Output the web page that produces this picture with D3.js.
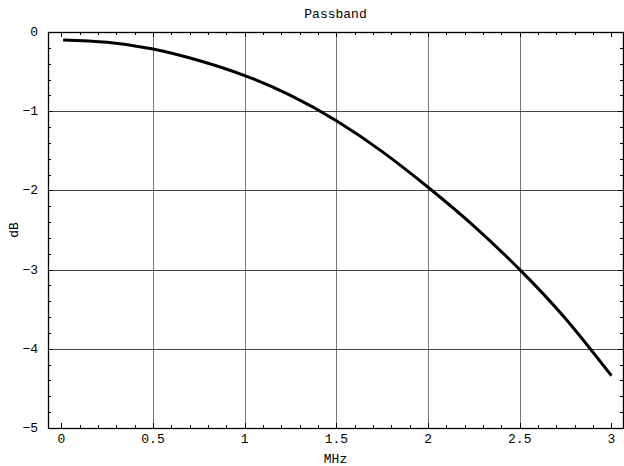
<!DOCTYPE html>
<html>
<head>
<meta charset="utf-8">
<script src="https://cdn.jsdelivr.net/npm/d3@7"></script>
<style>
  body { margin: 0; background: #fff; }
  text { font-family: "Liberation Mono", "DejaVu Sans Mono", monospace; fill: #000; }
</style>
</head>
<body>
<div id="chart"></div>
<script>
// values
var freqs = [0.01, 0.25, 0.5, 0.75, 1.0, 1.25, 1.5, 1.75, 2.0, 2.25, 2.5, 2.75, 3.0];
var gains = [-0.10, -0.13, -0.215, -0.36, -0.55, -0.80, -1.12, -1.51, -1.96, -2.45, -3.00, -3.62, -4.34];
var xTicks = [0, 0.5, 1, 1.5, 2, 2.5, 3];
var yTicks = [0, -1, -2, -3, -4, -5];
var xGrid = [0.5, 1, 1.5, 2, 2.5];
var yGrid = [-1, -2, -3, -4];

var svgWidth = 624;
var svgHeight = 466;
var margin = { top: 32, right: 1, bottom: 38, left: 48 };
var width = svgWidth - margin.left - margin.right;
var height = svgHeight - margin.top - margin.bottom;

var svg = d3.select("#chart")
  .append("svg")
  .attr("width", svgWidth)
  .attr("height", svgHeight);

var chartGroup = svg.append("g")
  .attr("transform", `translate(${margin.left}, ${margin.top})`);

var x = d3.scaleLinear().domain([-0.0725, 3.063]).range([0, width]);
var y = d3.scaleLinear().domain([-5, 0]).range([height, 0]);

// grid lines
chartGroup.selectAll(".vgrid").data(xGrid).enter()
  .append("line")
  .attr("x1", d => Math.round(x(d)) + 0.5)
  .attr("x2", d => Math.round(x(d)) + 0.5)
  .attr("y1", 0).attr("y2", height)
  .attr("stroke", "#777").attr("stroke-width", 1);

chartGroup.selectAll(".hgrid").data(yGrid).enter()
  .append("line")
  .attr("y1", d => Math.round(y(d)) + 0.5)
  .attr("y2", d => Math.round(y(d)) + 0.5)
  .attr("x1", 0).attr("x2", width)
  .attr("stroke", "#444").attr("stroke-width", 1);

// minor ticks
var xMinor = d3.range(0, 31).map(i => i / 10);
var yMinor = d3.range(0, 26).map(i => -i / 5);

function tickLen(v, majors) {
  return majors.some(m => Math.abs(m - v) < 1e-6) ? 5 : 3;
}

// bottom and top ticks
[height, 0].forEach(function(base) {
  var dir = base === 0 ? 1 : -1;
  chartGroup.selectAll(null).data(xMinor).enter()
    .append("line")
    .attr("x1", d => Math.round(x(d)) + 0.5)
    .attr("x2", d => Math.round(x(d)) + 0.5)
    .attr("y1", base)
    .attr("y2", d => base + dir * tickLen(d, xTicks))
    .attr("stroke", "#000");
});

// left and right ticks
[0, width].forEach(function(base) {
  var dir = base === 0 ? 1 : -1;
  chartGroup.selectAll(null).data(yMinor).enter()
    .append("line")
    .attr("y1", d => Math.round(y(d)) + 0.5)
    .attr("y2", d => Math.round(y(d)) + 0.5)
    .attr("x1", base)
    .attr("x2", d => base + dir * tickLen(d, yTicks))
    .attr("stroke", "#000");
});

// frame
chartGroup.append("rect")
  .attr("x", 0.5).attr("y", 0.5)
  .attr("width", width).attr("height", height)
  .attr("fill", "none").attr("stroke", "#000").attr("stroke-width", 1.3);

// tick labels
chartGroup.selectAll(".xlab").data(xTicks).enter()
  .append("text")
  .attr("x", d => x(d))
  .attr("y", height + 15)
  .attr("text-anchor", "middle")
  .attr("font-size", 13)
  .text(d => d3.format("")(d));

chartGroup.selectAll(".ylab").data(yTicks).enter()
  .append("text")
  .attr("x", -10)
  .attr("y", d => y(d) + 4)
  .attr("text-anchor", "end")
  .attr("font-size", 13)
  .text(d => d === 0 ? "0" : "\u2212" + Math.abs(d));

// curve
var line = d3.line()
  .x((d, i) => x(freqs[i]))
  .y(d => y(d))
  .curve(d3.curveNatural);

chartGroup.append("path")
  .datum(gains)
  .attr("d", line)
  .attr("fill", "none")
  .attr("stroke", "#000")
  .attr("stroke-width", 3);

// titles
chartGroup.append("text")
  .attr("x", width / 2)
  .attr("y", -14)
  .attr("text-anchor", "middle")
  .attr("font-size", 13)
  .text("Passband");

chartGroup.append("text")
  .attr("x", width / 2)
  .attr("y", height + 35)
  .attr("text-anchor", "middle")
  .attr("font-size", 13)
  .text("MHz");

chartGroup.append("text")
  .attr("transform", `translate(${-30}, ${height / 2}) rotate(-90)`)
  .attr("text-anchor", "middle")
  .attr("font-size", 13)
  .text("dB");
</script>
</body>
</html>
